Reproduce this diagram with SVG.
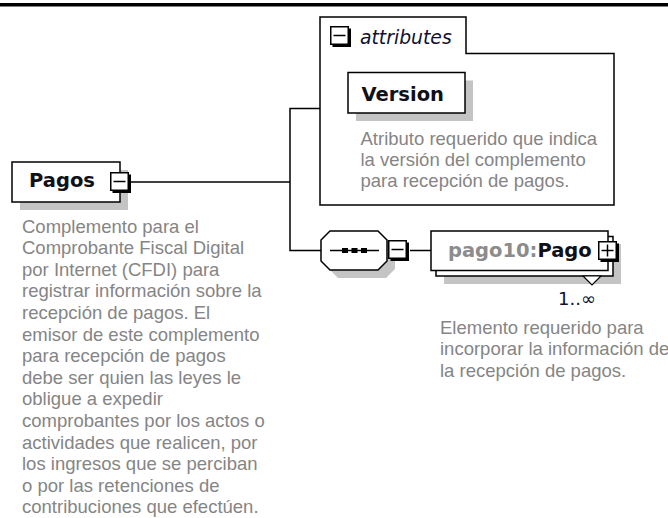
<svg xmlns="http://www.w3.org/2000/svg" width="668" height="518" viewBox="0 0 668 518">
<style>
.box{fill:#fff;stroke:#000;stroke-width:1.5}
.shadow{fill:#c4c4c4}
.name{font-family:"DejaVu Sans",Verdana,sans-serif;font-weight:bold;font-size:19.5px;fill:#101018}
.desc{font-family:"Liberation Sans",Arial,sans-serif;font-size:18.5px;fill:#858585}
.conn{fill:none;stroke:#000;stroke-width:1.5}
.ibox{fill:#fff;stroke:#000;stroke-width:1.5}
.isign{stroke:#000;stroke-width:1.5;fill:none}
</style>
<defs>
<g id="minusIcon">
<rect x="2.5" y="2.5" width="18.5" height="18.5" fill="#000"/>
<rect x="0.75" y="0.75" width="17.5" height="17.5" class="ibox"/>
<line x1="3.5" y1="9.5" x2="15.5" y2="9.5" class="isign"/>
</g>
<g id="plusIcon">
<rect x="2.5" y="2.5" width="18.5" height="18.5" fill="#000"/>
<rect x="0.75" y="0.75" width="17.5" height="17.5" class="ibox"/>
<line x1="3.5" y1="9.5" x2="15.5" y2="9.5" class="isign"/>
<line x1="9.5" y1="3.5" x2="9.5" y2="15.5" class="isign"/>
</g>
</defs>
<rect x="0" y="3" width="668" height="3.5" fill="#000"/>
<g id="connectors">
<line x1="130" y1="182" x2="290" y2="182" class="conn"/>
<polyline points="320,108.5 290,108.5 290,250.5 321,250.5" class="conn"/>
<line x1="410" y1="250.5" x2="431" y2="250.5" class="conn"/>
</g>
<g id="node-pagos">
<rect x="20" y="170" width="108" height="40" class="shadow"/>
<rect x="12" y="162" width="108" height="40" class="box"/>
<text x="29" y="187" class="name">Pagos</text>
<use href="#minusIcon" x="110" y="172"/>
<text class="desc">
<tspan x="22" y="232.5">Complemento para el</tspan>
<tspan x="22" y="254.1">Comprobante Fiscal Digital</tspan>
<tspan x="22" y="275.7">por Internet (CFDI) para</tspan>
<tspan x="22" y="297.3">registrar información sobre la</tspan>
<tspan x="22" y="318.9">recepción de pagos. El</tspan>
<tspan x="22" y="340.5">emisor de este complemento</tspan>
<tspan x="22" y="362.1">para recepción de pagos</tspan>
<tspan x="22" y="383.7">debe ser quien las leyes le</tspan>
<tspan x="22" y="405.3">obligue a expedir</tspan>
<tspan x="22" y="426.9">comprobantes por los actos o</tspan>
<tspan x="22" y="448.5">actividades que realicen, por</tspan>
<tspan x="22" y="470.1">los ingresos que se perciban</tspan>
<tspan x="22" y="491.7">o por las retenciones de</tspan>
<tspan x="22" y="513.3">contribuciones que efectúen.</tspan>
</text>
</g>
<g id="node-attributes">
<path d="M320,17 H466 V53.5 H614 V205 H320 Z" class="box"/>
<use href="#minusIcon" x="330" y="26"/>
<text x="360" y="43.5" font-family="DejaVu Sans, Verdana, sans-serif" font-style="italic" font-size="18.8" fill="#101030">attributes</text>
</g>
<g id="node-version">
<rect x="356" y="80.5" width="117" height="40.5" class="shadow"/>
<rect x="348" y="72.5" width="117" height="40.5" class="box"/>
<text x="361.5" y="100.7" class="name">Version</text>
<text class="desc">
<tspan x="360.5" y="144.5">Atributo requerido que indica</tspan>
<tspan x="360.5" y="165.5">la versión del complemento</tspan>
<tspan x="360.5" y="186.5">para recepción de pagos.</tspan>
</text>
</g>
<g id="node-sequence">
<polygon points="338,239 386,239 395,248 395,269 386,278 338,278 329,269 329,248" class="shadow"/>
<polygon points="330,231 378,231 387,240 387,261 378,270 330,270 321,261 321,240" class="box"/>
<line x1="330" y1="250.5" x2="379" y2="250.5" class="conn"/>
<rect x="342" y="248" width="6" height="5" fill="#000"/>
<rect x="351.5" y="248" width="6" height="5" fill="#000"/>
<rect x="361" y="248" width="6" height="5" fill="#000"/>
<use href="#minusIcon" x="388" y="240"/>
</g>
<g id="node-pago">
<rect x="444" y="244" width="177" height="40" class="shadow"/>
<rect x="436" y="236.5" width="177" height="39.5" class="box"/>
<rect x="431" y="231" width="177" height="39.5" class="box"/>
<text x="448" y="256.7" class="name" font-size="19"><tspan fill="#8c8c8c">pago10:</tspan><tspan>Pago</tspan></text>
<use href="#plusIcon" x="598" y="241"/>
<polygon points="583,276 601,276 592,285" fill="#fff" stroke="#000" stroke-width="1.2"/>
<text x="558" y="305" font-family="DejaVu Sans, Verdana, sans-serif" font-size="18" fill="#101030">1..∞</text>
<text class="desc">
<tspan x="440" y="333.5">Elemento requerido para</tspan>
<tspan x="440" y="355">incorporar la información de</tspan>
<tspan x="440" y="376.5">la recepción de pagos.</tspan>
</text>
</g>
</svg>
